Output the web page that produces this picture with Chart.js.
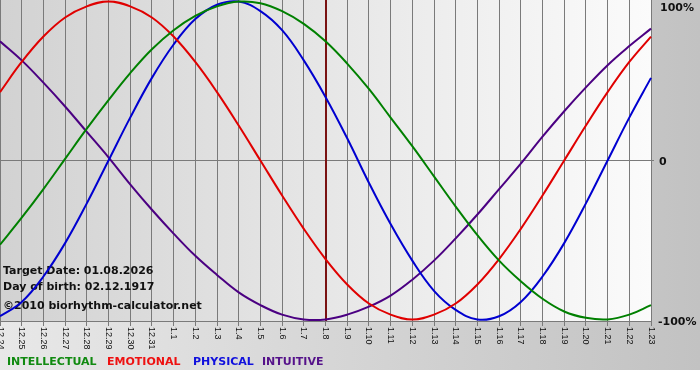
<!DOCTYPE html>
<html>
<head>
<meta charset="utf-8">
<script src="https://cdn.jsdelivr.net/npm/chart.js@4/dist/chart.umd.min.js"></script>
<style>
html,body{margin:0;padding:0;background:#fff;}
#wrap{width:700px;height:380px;}
</style>
</head>
<body>
<div id="wrap"><canvas id="c" width="700" height="380"></canvas></div>
<script>
const days = ['12.24','12.25','12.26','12.27','12.28','12.29','12.30','12.31',
  '1.1','1.2','1.3','1.4','1.5','1.6','1.7','1.8','1.9','1.10','1.11','1.12','1.13',
  '1.14','1.15','1.16','1.17','1.18','1.19','1.20','1.21','1.22','1.23'];
const intellectual = [-53,-36,-18,1,20,38,55,70,82,91,97,100,99,94,86,75,61,45,27,9,-10,-29,-47,-63,-76,-87,-95,-99,-100,-97,-91];
const emotional = [43,62,78,90,97,100,97,90,78,62,43,22,0,-22,-43,-62,-78,-90,-97,-100,-97,-90,-78,-62,-43,-22,0,22,43,62,78];
const physical = [-98,-89,-73,-52,-27,0,27,52,73,89,98,100,94,82,63,40,14,-14,-40,-63,-82,-94,-100,-98,-89,-73,-52,-27,0,27,52];
const intuitive = [75,63,49,34,18,2,-15,-31,-46,-60,-72,-83,-91,-97,-100,-100,-97,-92,-85,-75,-63,-49,-34,-18,-2,15,31,46,60,72,83];
const yTickLabels = ['100%','0','-100%'];
const targetDay = '1.8';
const infoLines = ['Target Date: 01.08.2026','Day of birth: 02.12.1917'];
const copyright = '\u00A92010 biorhythm-calculator.net';
const legendNames = ['INTELLECTUAL','EMOTIONAL','PHYSICAL','INTUITIVE'];
const colors = ['#008000','#e00000','#0000d0','#4b0082'];
const legendColors = ['#118a11','#ee1111','#1010dd','#55128a'];

const GRID = '#7a7a7a';

const decor = {
  id: 'decor',
  beforeDraw(chart) {
    const ctx = chart.ctx, a = chart.chartArea;
    ctx.save();
    ctx.fillStyle = '#ffffff';
    ctx.fillRect(0, 0, chart.width, chart.height);
    let g = ctx.createLinearGradient(0, 0, chart.width, 0);
    g.addColorStop(0, '#e8e8e8');
    g.addColorStop(1, '#c2c2c2');
    ctx.fillStyle = g;
    ctx.fillRect(0, 0, chart.width, 370);
    g = ctx.createLinearGradient(a.left, 0, a.right, 0);
    g.addColorStop(0, '#d2d2d2');
    g.addColorStop(1, '#fbfbfb');
    ctx.fillStyle = g;
    ctx.fillRect(a.left, a.top, a.right - a.left, a.bottom - a.top);
    ctx.restore();
  },
  beforeDatasetsDraw(chart) {
    const ctx = chart.ctx, a = chart.chartArea;
    const xs = chart.scales.x;
    ctx.save();
    const tx = Math.round(xs.getPixelForValue(days.indexOf(targetDay)));
    ctx.strokeStyle = '#7a1212';
    ctx.lineWidth = 2;
    ctx.beginPath();
    ctx.moveTo(tx, a.top);
    ctx.lineTo(tx, a.bottom);
    ctx.stroke();
    ctx.fillStyle = '#111';
    ctx.font = 'bold 11px "DejaVu Sans"';
    ctx.textBaseline = 'middle';
    ctx.textAlign = 'left';
    ctx.fillText(infoLines[0], 3, 271);
    ctx.fillText(infoLines[1], 3, 287);
    ctx.fillText(copyright, 3, 306);
    ctx.restore();
  },
  afterDraw(chart) {
    const ctx = chart.ctx, a = chart.chartArea;
    const xs = chart.scales.x;
    ctx.save();
    ctx.fillStyle = '#111';
    ctx.font = '9px "Liberation Sans"';
    ctx.textAlign = 'left';
    ctx.textBaseline = 'middle';
    days.forEach((d, i) => {
      const x = xs.getPixelForValue(i);
      ctx.save();
      ctx.translate(x, a.bottom + 6);
      ctx.rotate(Math.PI / 2);
      ctx.fillText(d, 0, 0);
      ctx.restore();
    });
    ctx.font = 'bold 11px "DejaVu Sans"';
    ctx.fillStyle = '#111';
    ctx.fillText(yTickLabels[0], 660, 8);
    ctx.fillText(yTickLabels[1], 659, 162);
    ctx.fillText(yTickLabels[2], 658, 322);
    ctx.font = 'bold 11px "DejaVu Sans"';
    const lx = [7, 107, 193, 262];
    legendNames.forEach((n, i) => {
      ctx.fillStyle = legendColors[i];
      ctx.fillText(n, lx[i], 362);
    });
    ctx.restore();
  }
};

const series = [intellectual, emotional, physical, intuitive];
new Chart(document.getElementById('c'), {
  type: 'line',
  data: {
    labels: days,
    datasets: series.map((s, i) => ({
      label: legendNames[i],
      data: s,
      borderColor: colors[i],
      borderWidth: 2,
      pointRadius: 0,
      tension: 0.4,
      fill: false,
      clip: false
    }))
  },
  options: {
    responsive: false,
    animation: false,
    devicePixelRatio: 1,
    layout: { padding: 0 },
    plugins: { legend: { display: false }, tooltip: { enabled: false } },
    scales: {
      x: {
        type: 'category',
        offset: false,
        grid: { color: GRID, lineWidth: 1, tickLength: 5, drawTicks: true, offset: false },
        border: { display: true, color: GRID },
        ticks: { display: false },
        afterFit(s) { s.height = 59; }
      },
      y: {
        position: 'right',
        min: -101,
        max: 101,
        afterBuildTicks(s) { s.ticks = [{ value: -101 }, { value: 0 }, { value: 101 }]; },
        grid: {
          color: c => (c.tick && c.tick.value === 0) ? GRID : 'rgba(0,0,0,0)',
          tickLength: 3
        },
        border: { display: true, color: GRID },
        ticks: { display: false },
        afterFit(s) { s.width = 49; }
      }
    }
  },
  plugins: [decor]
});
</script>
</body>
</html>
